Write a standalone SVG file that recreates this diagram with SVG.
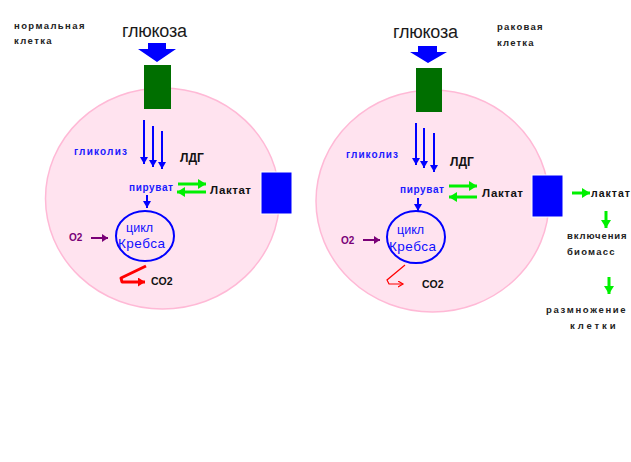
<svg xmlns="http://www.w3.org/2000/svg" width="631" height="462" viewBox="0 0 631 462">
<style>
.cell{fill:#ffe3ef;stroke:#ffb9d6;stroke-width:1.5}
.gate{fill:#006f00}
.pump{fill:#0000ff;stroke:#ffffff;stroke-width:1}
.t{font-family:"Liberation Sans",Arial,sans-serif}
.lbl{font-family:"Liberation Sans",Arial,sans-serif;font-weight:bold;font-size:9.5px;letter-spacing:1.4px;fill:#222}
.glu{font-family:"Liberation Sans",Arial,sans-serif;font-size:18px;fill:#1a1a1a}
.blue{fill:#1010ff}
.bl{stroke:#0000ff;stroke-width:2;fill:none}
.gr{stroke:#00f000;stroke-width:3;fill:none}
.pu{stroke:#7a0077;stroke-width:2;fill:none}
.krebs{fill:none;stroke:#0000ff;stroke-width:2}
</style>
<defs>
<marker id="hb" markerUnits="userSpaceOnUse" markerWidth="9" markerHeight="8" refX="7" refY="4" orient="auto"><path d="M0,0 L7,4 L0,8 z" fill="#0000ff"/></marker>
<marker id="hg" markerUnits="userSpaceOnUse" markerWidth="10" markerHeight="10" refX="8" refY="5" orient="auto"><path d="M0,0 L8,5 L0,10 z" fill="#00f000"/></marker>
<marker id="hp" markerUnits="userSpaceOnUse" markerWidth="8" markerHeight="8" refX="6" refY="4" orient="auto"><path d="M0,0 L6,4 L0,8 z" fill="#7a0077"/></marker>
<marker id="hr" markerUnits="userSpaceOnUse" markerWidth="9" markerHeight="9" refX="7" refY="4.5" orient="auto"><path d="M0,0 L7,4.5 L0,9 z" fill="#ff0000"/></marker>
<marker id="hr2" markerUnits="userSpaceOnUse" markerWidth="7" markerHeight="7" refX="5" refY="3" orient="auto"><path d="M0,0 L5,3 L0,6" fill="none" stroke="#ff0000" stroke-width="1.2"/></marker>
</defs>

<!-- LEFT: normal cell -->
<g id="normal-cell">
<ellipse class="cell" cx="162.5" cy="198.5" rx="117" ry="110.5"/>
<text class="lbl" x="14" y="29">нормальная</text>
<text class="lbl" x="14" y="44">клетка</text>
</g>
<g id="glucose-left">
<text class="glu" x="122" y="37" textLength="65">глюкоза</text>
<polygon points="148,43 166,43 166,49 176,49 157,62 138,49 148,49" fill="#0000ff"/>
</g>
<g id="transporter-left"><rect class="gate" x="144" y="65" width="27" height="44"/></g>
<g id="pump-left"><rect class="pump" x="261" y="172" width="31" height="42"/></g>
<g id="krebs-left">
<ellipse class="krebs" cx="145" cy="236" rx="29" ry="25"/>
<text class="t blue" x="126" y="232" font-size="12.5">цикл</text>
<text class="t blue" x="118" y="248" font-size="13.5" textLength="47">Кребса</text>
</g>
<g id="labels-left">
<text class="t" x="74" y="155" font-size="10" font-weight="bold" fill="#1a1aff" textLength="53">гликолиз</text>
<text class="t" x="180" y="162" font-size="12" font-weight="bold" fill="#111">ЛДГ</text>
<text class="t" x="129" y="191" font-size="10" font-weight="bold" fill="#1a1aff" textLength="44">пируват</text>
<text class="t" x="210" y="194" font-size="11.5" font-weight="bold" fill="#111" textLength="41">Лактат</text>
<text class="t" x="69" y="241" font-size="10" font-weight="bold" fill="#7a0077">O2</text>
<text class="t" x="151" y="285" font-size="10.5" font-weight="bold" fill="#111">CO2</text>
</g>

<!-- RIGHT: cancer cell -->
<g id="cancer-cell">
<ellipse class="cell" cx="432.5" cy="201" rx="116.5" ry="111"/>
<text class="lbl" x="497" y="30" textLength="47">раковая</text>
<text class="lbl" x="497" y="46" textLength="38">клетка</text>
</g>
<g id="glucose-right">
<text class="glu" x="393" y="38" textLength="65">глюкоза</text>
<polygon points="418,46 437,46 437,52 447,52 428,63 410,52 418,52" fill="#0000ff"/>
</g>
<g id="transporter-right"><rect class="gate" x="416" y="68" width="26" height="44"/></g>
<g id="pump-right"><rect class="pump" x="532" y="175" width="31" height="42"/></g>
<g id="krebs-right">
<ellipse class="krebs" cx="416" cy="237" rx="29" ry="26"/>
<text class="t blue" x="397" y="234" font-size="12.5">цикл</text>
<text class="t blue" x="389" y="251" font-size="13.5" textLength="47">Кребса</text>
</g>
<g id="labels-right">
<text class="t" x="346" y="158" font-size="10" font-weight="bold" fill="#1a1aff" textLength="52">гликолиз</text>
<text class="t" x="450" y="166" font-size="12" font-weight="bold" fill="#111">ЛДГ</text>
<text class="t" x="400" y="193" font-size="10" font-weight="bold" fill="#1a1aff" textLength="44">пируват</text>
<text class="t" x="482" y="197" font-size="11.5" font-weight="bold" fill="#111" textLength="41">Лактат</text>
<text class="t" x="341" y="244" font-size="10" font-weight="bold" fill="#7a0077">O2</text>
<text class="t" x="422" y="288" font-size="10.5" font-weight="bold" fill="#111">CO2</text>
<text class="t" x="591" y="197" font-size="10.5" font-weight="bold" fill="#111" textLength="39">лактат</text>
<text class="lbl" x="567" y="239" textLength="61">включения</text>
<text class="lbl" x="567" y="255" textLength="49">биомасс</text>
<text class="lbl" x="546" y="313" textLength="81">размножение</text>
<text class="lbl" x="570" y="329" textLength="47">клетки</text>
</g>

<g id="connectors">
<line class="bl" x1="144" y1="120" x2="144" y2="164" marker-end="url(#hb)"/>
<line class="bl" x1="153" y1="126" x2="153" y2="167" marker-end="url(#hb)"/>
<line class="bl" x1="162" y1="131" x2="162" y2="169" marker-end="url(#hb)"/>
<line class="gr" x1="178" y1="184" x2="206" y2="184" marker-end="url(#hg)"/>
<line class="gr" x1="206" y1="192" x2="177" y2="192" marker-end="url(#hg)"/>
<line class="bl" x1="147" y1="195" x2="147" y2="208" marker-end="url(#hb)"/>
<line class="pu" x1="91" y1="238" x2="108" y2="238" marker-end="url(#hp)"/>
<polyline points="146,266 121,278 122,282 145,282" fill="none" stroke="#ff0000" stroke-width="3" stroke-linejoin="round" marker-end="url(#hr)"/>
<line class="bl" x1="416" y1="123" x2="416" y2="165" marker-end="url(#hb)"/>
<line class="bl" x1="424" y1="128" x2="424" y2="168" marker-end="url(#hb)"/>
<line class="bl" x1="434" y1="133" x2="434" y2="172" marker-end="url(#hb)"/>
<line class="gr" x1="449" y1="186" x2="477" y2="186" marker-end="url(#hg)"/>
<line class="gr" x1="477" y1="197" x2="449" y2="197" marker-end="url(#hg)"/>
<line class="bl" x1="418" y1="198" x2="418" y2="211" marker-end="url(#hb)"/>
<line class="pu" x1="363" y1="240" x2="380" y2="240" marker-end="url(#hp)"/>
<polyline points="405,265 387,280 389,284 403,284" fill="none" stroke="#ff0000" stroke-width="1.2" marker-end="url(#hr2)"/>
<line class="gr" x1="572" y1="193" x2="590" y2="193" marker-end="url(#hg)"/>
<line class="gr" x1="606" y1="211" x2="606" y2="228" marker-end="url(#hg)"/>
<line class="gr" x1="609" y1="277" x2="609" y2="294" marker-end="url(#hg)"/>
</g>
</svg>
